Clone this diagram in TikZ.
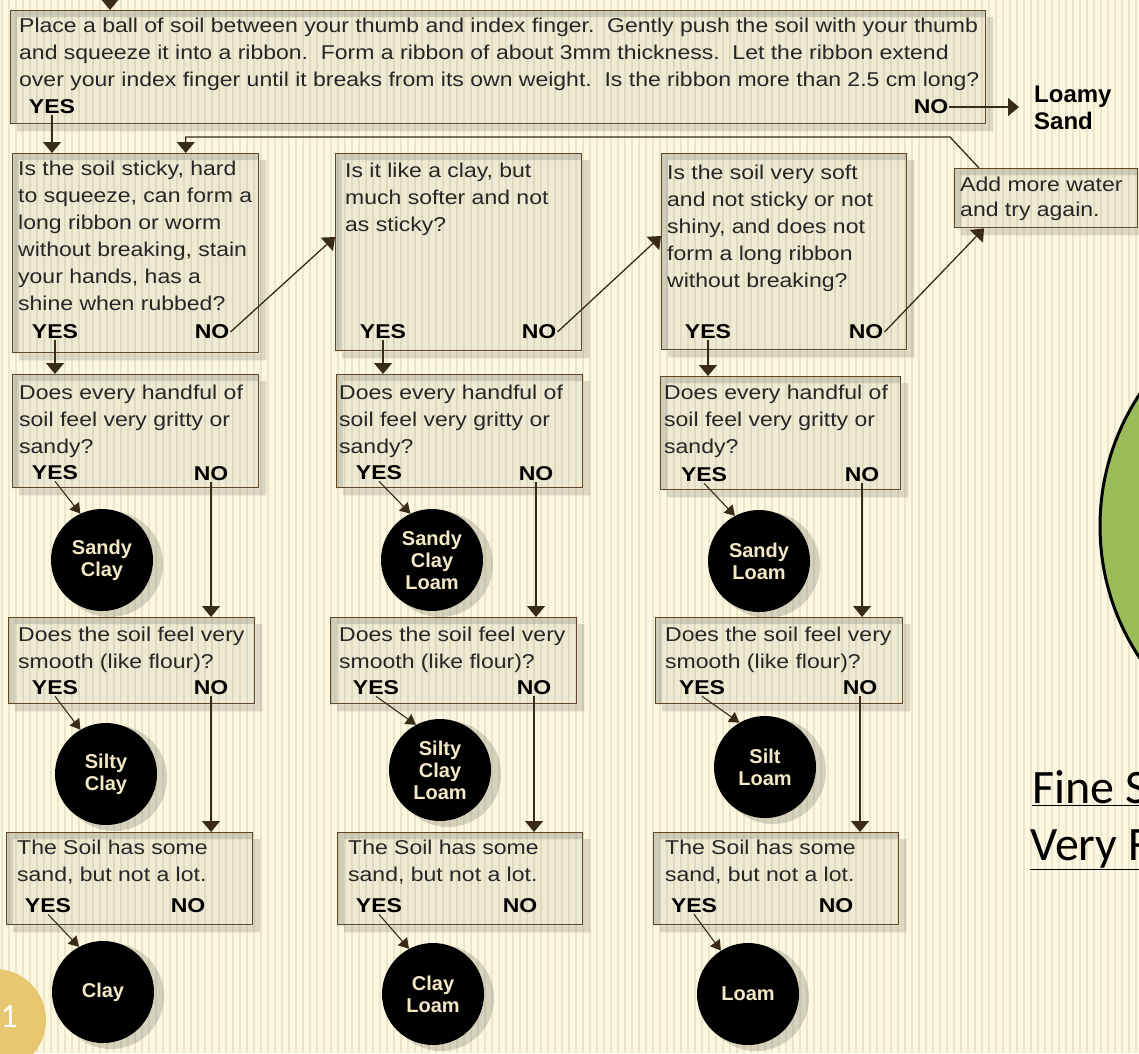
\documentclass[tikz,border=0pt]{standalone}
\usepackage{fontspec}
\setmainfont{Liberation Sans}
\newfontfamily\boxfont[FakeStretch=1.15]{Liberation Sans}
\newfontfamily\slidefont{Carlito}
\usetikzlibrary{arrows.meta}

\pgfdeclarelayer{paper}
\pgfdeclarelayer{shade}
\pgfdeclarelayer{stripes}
\pgfsetlayers{paper,shade,stripes,main}

\definecolor{paper}{RGB}{251,247,224}
\definecolor{boxline}{RGB}{96,72,38}
\definecolor{soiltext}{RGB}{243,232,198}
\definecolor{olive}{RGB}{155,187,89}
\definecolor{gold}{RGB}{231,199,112}

\tikzset{
  qbox/.style={draw=boxline, line width=1.4pt, fill=black, fill opacity=0.05,
    anchor=north west, inner sep=0pt},
  qtext/.style={anchor=north west, align=left, inner sep=0pt, text=black!85,
    font=\boxfont\fontsize{20}{27}\selectfont},
  yesno/.style={inner sep=1pt, text=black,
    font=\boxfont\bfseries\fontsize{20}{22}\selectfont},
  soil/.style={circle, fill=black, minimum size=102pt, inner sep=0pt, align=center,
    text=soiltext, font=\bfseries\fontsize{20}{22}\selectfont},
  stripeline/.style={draw={rgb,255:red,120;green,100;blue,40}, opacity=0.12, line width=2.5pt},
  arr/.style={draw=boxline!60!black, line width=1.3pt, -{Triangle[width=18pt,length=11pt]}},
  yesarr/.style={draw=boxline!60!black, line width=1.1pt, -{Triangle[width=12pt,length=10pt]}},
  slide/.style={inner sep=0pt, font=\slidefont\fontsize{48}{50}\selectfont}
}

\begin{document}
\begin{tikzpicture}[x=1pt,y=-1pt]
		\useasboundingbox (0,0) rectangle (1139,1053);
		\clip (0,0) rectangle (1139,1053);
		
		%%%%% PAPER %%%%%
		\begin{pgfonlayer}{paper}
		\fill[paper] (0,0) rectangle (1139,1053);
		\end{pgfonlayer}
		\begin{pgfonlayer}{stripes}
		\foreach \sx in {2,9,...,1139} \draw[stripeline] (\sx,0) -- (\sx,1053);
		\end{pgfonlayer}
		
		%%%%% RIBBON TEST %%%%%
		\node[qbox, minimum width=975pt, minimum height=113pt] (ribbon) at (10,10) {};
		\node[qtext] (ribbon-t) at (19,18) {Place a ball of soil between your thumb and index finger.\ \ Gently push the soil with your thumb\\and squeeze it into a ribbon.\ \ Form a ribbon of about 3mm thickness.\ \ Let the ribbon extend\\over your index finger until it breaks from its own weight.\ \ Is the ribbon more than 2.5 cm long?};
		\node[yesno] (ribbon-yes) at (52,107) {YES};
		\node[yesno] (ribbon-no) at (931,107) {NO};
		\node[anchor=north west, inner sep=0pt, align=left, font=\bfseries\fontsize{24}{27}\selectfont] (loamy) at (1034,86) {Loamy\\Sand};
		
		\node[qbox, minimum width=183pt, minimum height=59pt] (water) at (954,168) {};
		\node[qtext, font=\boxfont\fontsize{20}{25}\selectfont] (water-t) at (960,177) {Add more water\\and try again.};
		
		%%%%% COLUMN 1 %%%%%
		\node[qbox, minimum width=246pt, minimum height=199pt] (sticky) at (12,153) {};
		\node[qtext] (sticky-t) at (18,161) {Is the soil sticky, hard\\to squeeze, can form a\\long ribbon or worm\\without breaking, stain\\your hands, has a\\shine when rubbed?};
		\node[yesno] (sticky-yes) at (55,332) {YES};
		\node[yesno] (sticky-no) at (212,332) {NO};
		
		\node[qbox, minimum width=246pt, minimum height=113pt] (gritty1) at (12,374) {};
		\node[qtext] (gritty1-t) at (19,385) {Does every handful of\\soil feel very gritty or\\sandy?};
		\node[yesno] (gritty1-yes) at (55,473) {YES};
		\node[yesno] (gritty1-no) at (211,474) {NO};
		\node[soil] (sandyclay) at (102,560) {Sandy\\Clay};
		
		\node[qbox, minimum width=246pt, minimum height=86pt] (smooth1) at (8,617) {};
		\node[qtext] (smooth1-t) at (18,627) {Does the soil feel very\\smooth (like flour)?};
		\node[yesno] (smooth1-yes) at (55,688) {YES};
		\node[yesno] (smooth1-no) at (211,688) {NO};
		\node[soil] (siltyclay) at (106,774) {Silty\\Clay};
		
		\node[qbox, minimum width=246pt, minimum height=92pt] (somesand1) at (6,832) {};
		\node[qtext] (somesand1-t) at (17,840) {The Soil has some\\sand, but not a lot.};
		\node[yesno] (somesand1-yes) at (48,906) {YES};
		\node[yesno] (somesand1-no) at (188,906) {NO};
		\node[soil] (clay) at (103,992) {Clay};
		
		%%%%% COLUMN 2 %%%%%
		\node[qbox, minimum width=246pt, minimum height=197pt] (softer) at (335,153) {};
		\node[qtext] (softer-t) at (345,163) {Is it like a clay, but\\much softer and not\\as sticky?};
		\node[yesno] (softer-yes) at (383,332) {YES};
		\node[yesno] (softer-no) at (539,332) {NO};
		
		\node[qbox, minimum width=246pt, minimum height=113pt] (gritty2) at (336,374) {};
		\node[qtext] (gritty2-t) at (339,385) {Does every handful of\\soil feel very gritty or\\sandy?};
		\node[yesno] (gritty2-yes) at (379,473) {YES};
		\node[yesno] (gritty2-no) at (536,474) {NO};
		\node[soil] (sandyclayloam) at (432,560) {Sandy\\Clay\\Loam};
		
		\node[qbox, minimum width=246pt, minimum height=86pt] (smooth2) at (330,617) {};
		\node[qtext] (smooth2-t) at (339,627) {Does the soil feel very\\smooth (like flour)?};
		\node[yesno] (smooth2-yes) at (376,688) {YES};
		\node[yesno] (smooth2-no) at (534,688) {NO};
		\node[soil] (siltyclayloam) at (440,770) {Silty\\Clay\\Loam};
		
		\node[qbox, minimum width=245pt, minimum height=92pt] (somesand2) at (337,832) {};
		\node[qtext] (somesand2-t) at (348,840) {The Soil has some\\sand, but not a lot.};
		\node[yesno] (somesand2-yes) at (379,906) {YES};
		\node[yesno] (somesand2-no) at (520,906) {NO};
		\node[soil] (clayloam) at (433,994) {Clay\\Loam};
		
		%%%%% COLUMN 3 %%%%%
		\node[qbox, minimum width=245pt, minimum height=196pt] (verysoft) at (661,153) {};
		\node[qtext] (verysoft-t) at (667,165) {Is the soil very soft\\and not sticky or not\\shiny, and does not\\form a long ribbon\\without breaking?};
		\node[yesno] (verysoft-yes) at (708,332) {YES};
		\node[yesno] (verysoft-no) at (866,332) {NO};
		
		\node[qbox, minimum width=240pt, minimum height=113pt] (gritty3) at (660,376) {};
		\node[qtext] (gritty3-t) at (664,385) {Does every handful of\\soil feel very gritty or\\sandy?};
		\node[yesno] (gritty3-yes) at (704,475) {YES};
		\node[yesno] (gritty3-no) at (862,475) {NO};
		\node[soil] (sandyloam) at (759,561) {Sandy\\Loam};
		
		\node[qbox, minimum width=247pt, minimum height=86pt] (smooth3) at (655,617) {};
		\node[qtext] (smooth3-t) at (665,627) {Does the soil feel very\\smooth (like flour)?};
		\node[yesno] (smooth3-yes) at (702,688) {YES};
		\node[yesno] (smooth3-no) at (860,688) {NO};
		\node[soil] (siltloam) at (765,767) {Silt\\Loam};
		
		\node[qbox, minimum width=245pt, minimum height=92pt] (somesand3) at (653,832) {};
		\node[qtext] (somesand3-t) at (665,840) {The Soil has some\\sand, but not a lot.};
		\node[yesno] (somesand3-yes) at (694,906) {YES};
		\node[yesno] (somesand3-no) at (836,906) {NO};
		\node[soil] (loam) at (748,994) {Loam};
		
		%%%%% ARROWS %%%%%
		\coordinate (feed) at (110,-30);
		\draw[arr] (feed) -- (feed |- ribbon.north);
		\draw[arr] (ribbon-yes.south) -- (ribbon-yes.south |- sticky.north);
		\draw[arr] (ribbon-no.east) -- ([xshift=-15pt]ribbon-no.east -| loamy.west);
		\draw[arr] ([xshift=25pt]water.north west) -- (950,137) -| ([xshift=50pt]sticky.north);
		
		\draw[arr] (sticky-no.east) -- ([yshift=-84pt]softer.north west);
		\draw[arr] (softer-no.east) -- ([yshift=-83pt]verysoft.north west);
		\draw[arr] (verysoft-no.east) -- ([xshift=30pt]water.south west);
		
		\draw[arr] (sticky-yes.south) -- (sticky-yes.south |- gritty1.north);
		\draw[arr] (softer-yes.south) -- (softer-yes.south |- gritty2.north);
		\draw[arr] (verysoft-yes.south) -- (verysoft-yes.south |- gritty3.north);
		
		\draw[arr] (gritty1-no.south) -- (gritty1-no.south |- smooth1.north);
		\draw[arr] (gritty2-no.south) -- (gritty2-no.south |- smooth2.north);
		\draw[arr] (gritty3-no.south) -- (gritty3-no.south |- smooth3.north);
		\draw[arr] (smooth1-no.south) -- (smooth1-no.south |- somesand1.north);
		\draw[arr] (smooth2-no.south) -- (smooth2-no.south |- somesand2.north);
		\draw[arr] (smooth3-no.south) -- (smooth3-no.south |- somesand3.north);
		
		\draw[yesarr] (gritty1-yes.south) -- (sandyclay.115);
		\draw[yesarr] (gritty2-yes.south) -- (sandyclayloam.115);
		\draw[yesarr] (gritty3-yes.south) -- (sandyloam.118);
		\draw[yesarr] (smooth1-yes.south) -- (siltyclay.120);
		\draw[yesarr] (smooth2-yes.south) -- (siltyclayloam.118);
		\draw[yesarr] (smooth3-yes.south) -- (siltloam.120);
		\draw[yesarr] (somesand1-yes.south) -- (clay.118);
		\draw[yesarr] (somesand2-yes.south) -- (clayloam.118);
		\draw[yesarr] (somesand3-yes.south) -- (loam.122);
		
		%%%%% SHADOWS %%%%%
		\begin{pgfonlayer}{shade}
		\foreach \b in {ribbon,water,sticky,softer,verysoft,gritty1,gritty2,gritty3,smooth1,smooth2,smooth3,somesand1,somesand2,somesand3}
			\fill[black, opacity=0.12, even odd rule] ([shift={(7pt,-7pt)}]\b.north west) rectangle ([shift={(7pt,-7pt)}]\b.south east) (\b.north west) rectangle (\b.south east);
		\foreach \c in {sandyclay,sandyclayloam,sandyloam,siltyclay,siltyclayloam,siltloam,clay,clayloam,loam}
			\fill[black, opacity=0.15] ([shift={(8pt,-4pt)}]\c.center) circle (53pt);
		\end{pgfonlayer}
		
		%%%%% SLIDE %%%%%
		\draw[line width=3pt, fill=olive] (1339,526) circle (239pt);
		\node[slide, anchor=base west] (finesand) at (1032,803) {\underline{Fine S}};
		\node[slide, anchor=base west] (veryfine) at (1030,860) {\underline{Very F}};
		\fill[gold] (-5,1020) circle (51pt);
		\node[text=white, font=\slidefont\fontsize{34}{34}\selectfont] (slideno) at (9,1017) {1};
		
	\end{tikzpicture}
\end{document}
